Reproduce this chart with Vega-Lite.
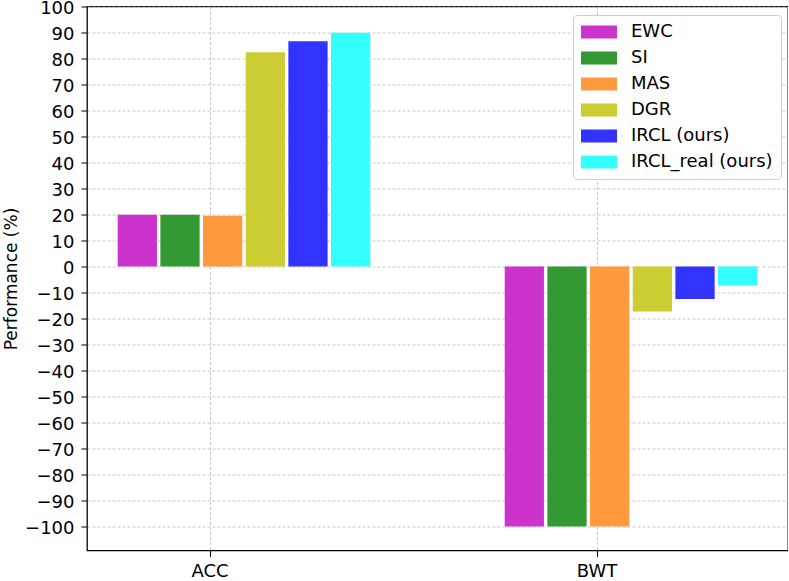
{
  "$schema": "https://vega.github.io/schema/vega-lite/v6.json",
  "autosize": {"type": "none"},
  "padding": {"left": 87, "top": 6.5, "right": 0, "bottom": 30},
  "width": 701,
  "height": 544,
  "config": {
    "font": "DejaVu Sans",
    "view": {"stroke": "#000000", "strokeWidth": 1.3},
    "axis": {
      "domain": false,
      "tickColor": "#000000",
      "tickSize": 6,
      "tickWidth": 1,
      "labelColor": "#000000",
      "labelFontSize": 18,
      "labelFont": "DejaVu Sans",
      "titleFont": "DejaVu Sans",
      "titleFontWeight": "normal",
      "titleFontSize": 17,
      "titleColor": "#000000",
      "gridColor": "#bbbbbb",
      "gridDash": [3, 2],
      "gridWidth": 0.8,
      "zindex": 1
    }
  },
  "data": {
    "values": [
      {"metric": "ACC", "method": "EWC", "value": 19.9},
      {"metric": "ACC", "method": "SI", "value": 19.9},
      {"metric": "ACC", "method": "MAS", "value": 19.5},
      {"metric": "ACC", "method": "DGR", "value": 82.4},
      {"metric": "ACC", "method": "IRCL (ours)", "value": 86.6},
      {"metric": "ACC", "method": "IRCL_real (ours)", "value": 89.9},
      {"metric": "BWT", "method": "EWC", "value": -100},
      {"metric": "BWT", "method": "SI", "value": -100},
      {"metric": "BWT", "method": "MAS", "value": -100},
      {"metric": "BWT", "method": "DGR", "value": -17.3},
      {"metric": "BWT", "method": "IRCL (ours)", "value": -12.5},
      {"metric": "BWT", "method": "IRCL_real (ours)", "value": -7.3}
    ]
  },
  "mark": {"type": "bar"},
  "encoding": {
    "x": {
      "field": "metric",
      "type": "nominal",
      "scale": {"paddingInner": 0.3385, "paddingOuter": 0.0749},
      "axis": {
        "title": null,
        "labelAngle": 0,
        "labelPadding": 6,
        "bandPosition": 0.37,
        "labelOffset": -34,
        "grid": true
      }
    },
    "xOffset": {
      "field": "method",
      "type": "nominal",
      "sort": ["EWC", "SI", "MAS", "DGR", "IRCL (ours)", "IRCL_real (ours)"],
      "scale": {"paddingInner": 0.08, "paddingOuter": 0.04}
    },
    "y": {
      "field": "value",
      "type": "quantitative",
      "scale": {"domain": [-109.2, 100], "nice": false, "zero": false},
      "axis": {
        "title": "Performance (%)",
        "values": [-100, -90, -80, -70, -60, -50, -40, -30, -20, -10, 0, 10, 20, 30, 40, 50, 60, 70, 80, 90, 100],
        "labelPadding": 7,
        "labelOffset": 1.5,
        "titleX": -76,
        "titleBaseline": "middle",
        "grid": true
      }
    },
    "color": {
      "field": "method",
      "type": "nominal",
      "sort": ["EWC", "SI", "MAS", "DGR", "IRCL (ours)", "IRCL_real (ours)"],
      "scale": {
        "domain": ["EWC", "SI", "MAS", "DGR", "IRCL (ours)", "IRCL_real (ours)"],
        "range": ["#cc33cc", "#339933", "#ff993e", "#cccc33", "#3333ff", "#33ffff"]
      },
      "legend": {
        "title": null,
        "orient": "none",
        "legendX": 486,
        "legendY": 8.5,
        "padding": 8,
        "strokeColor": "#cccccc",
        "fillColor": "#ffffff",
        "cornerRadius": 4,
        "labelFontSize": 18,
        "labelFont": "DejaVu Sans",
        "labelColor": "#000000",
        "symbolType": "M-1,-0.72 H3 V0.72 H-1 Z",
        "symbolSize": 324,
        "symbolStrokeWidth": 0,
        "symbolOpacity": 1,
        "labelOffset": 32,
        "rowPadding": 8
      }
    }
  }
}
